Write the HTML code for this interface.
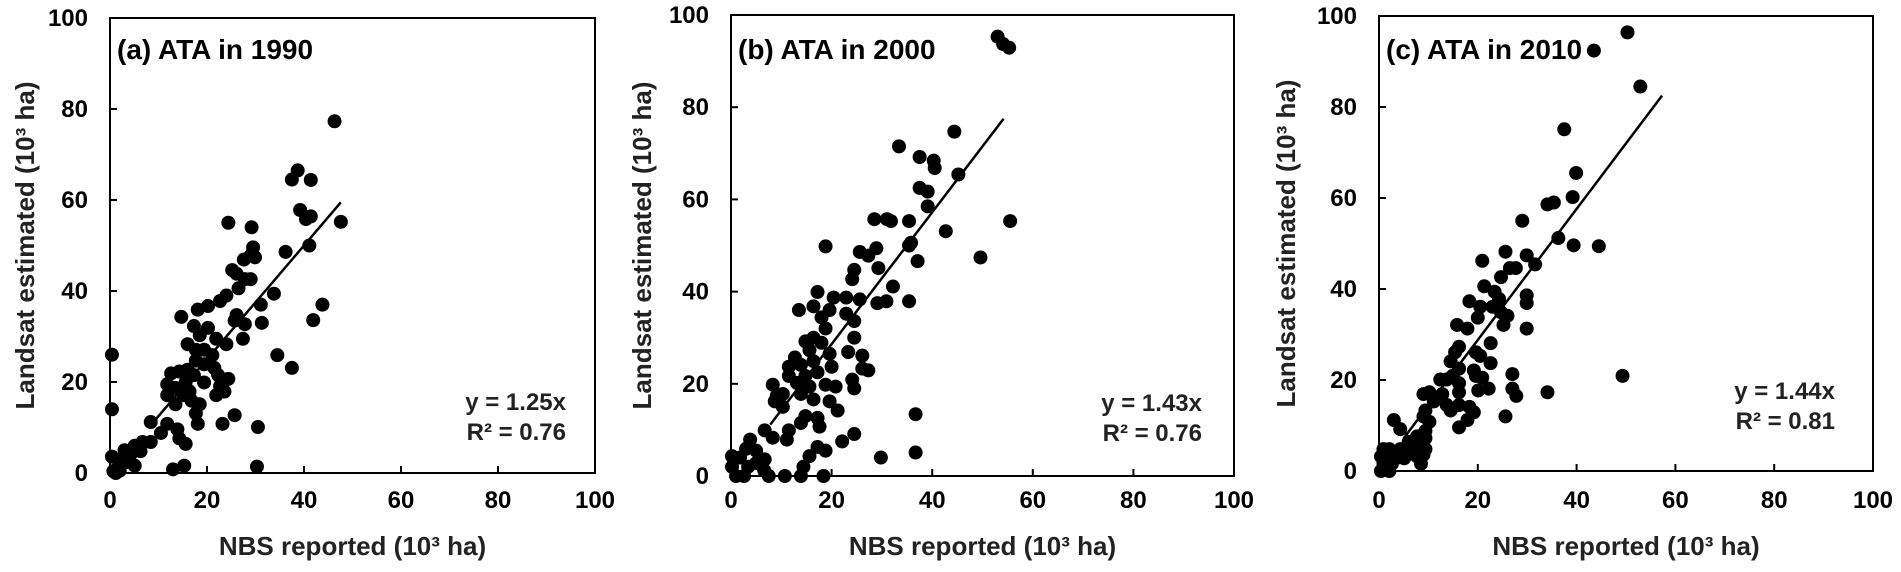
<!DOCTYPE html>
<html><head><meta charset="utf-8"><style>
html,body{margin:0;padding:0;background:#fff;}
svg{display:block;font-family:"Liberation Sans",Arial,sans-serif;font-weight:bold;}
</style></head><body>
<svg id="chart" width="1901" height="572" viewBox="0 0 1901 572" xmlns="http://www.w3.org/2000/svg"></svg>
<script>
const xTicks = [0, 20, 40, 60, 80, 100];
const yTicks = [0, 20, 40, 60, 80, 100];
const panelTitles = ["(a) ATA in 1990", "(b) ATA in 2000", "(c) ATA in 2010"];
const slopes = [1.25, 1.43, 1.44];
const r2Values = ["0.76", "0.76", "0.81"];
const fitRangeA = [9, 47.6];
const fitRangeB = [7.8, 54.2];
const fitRangeC = [5, 57.3];

const aX = [46.3,37.5,38.7,41.4,39.2,40.4,41.4,47.6,41.1,36.2,33.8,31.1,31.3,43.8,41.9,34.5,37.5,30.5,30.3,24.4,29.2,29.5,29.0,29.9,27.6,25.2,26.1,29.0,27.8,26.5,24,22.7,20.2,18.1,14.7,26.1,27.8,25.7,27.4,24,21.9,20.2,17.3,18.5,16,17.7,19.4,21.1,17.7,19.4,21.5,22.3,24.4,22.7,23.6,21.9,19.4,17.3,16,14.3,12.6,11.8,13.5,15.6,16.4,15.2,11.8,13.5,16.8,18.5,17.7,18.1,23.2,25.7,8.4,11.8,10.5,13.9,14.3,15.6,6.7,8.4,5.1,6.3,4.2,2.5,3.4,5.1,1.7,0.4,0.4,0.4,0.7,1.2,13,15.3,3.0,2.0];
const aY = [77.3,64.5,66.5,64.4,57.8,55.8,56.4,55.2,50,48.6,39.4,37,33,37,33.6,25.9,23.1,10.1,1.4,55,54,49.6,47.8,47.4,46.9,44.6,43.8,42.6,42.6,40.6,39,37.8,36.7,35.9,34.3,34.7,32.7,33.5,29.5,28.3,29.5,31.9,32.3,30.3,28.3,27.1,27.1,25.9,24.7,23.9,23.1,21.5,20.7,19.1,17.9,17.1,19.9,21.5,22.7,22.3,21.9,19.5,18.7,19.9,17.9,17.1,17.1,15.1,15.9,15.1,13.1,10.8,10.8,12.7,11.2,10.8,8.8,9.6,7.6,6.4,6.8,6.8,6.0,4.8,4.0,3.2,2.4,1.6,1.2,3.6,26,14,0.4,0,0.8,1.6,5.0,0.5];

const bX = [53,54.1,55.3,44.4,33.4,37.5,40.3,40.5,45.2,37.5,39.1,39.1,28.5,31,31.8,35.4,42.7,55.5,35.8,35.4,18.8,28.9,37.1,49.6,25.6,27.3,24.5,24.1,29.3,32.2,29.1,30.9,35.4,17.2,20.4,22.9,25.6,13.5,16.4,19.6,18,22.9,24.5,18.8,16.4,14.8,18,24.5,23.3,26.1,19.6,15.6,12.7,11.5,13.9,16.4,20.0,26.1,27.3,11.5,14.8,17.2,13.1,15.6,18.8,20.8,8.3,9.1,10.3,24.1,24.5,13.9,16.4,19.6,21.2,8.7,10.3,14.8,17.2,13.9,17.6,36.7,11.5,6.7,8.3,11.1,3.8,3,5,24.5,22.1,18.8,17.2,15.6,14.4,29.8,36.7,0.2,1.8,0.2,1,2.6,6.7,6.6,7.5,10.7,13.9,18.4,3.4,5];
const bY = [95.3,93.7,92.9,74.7,71.5,69.2,68.4,66.8,65.4,62.5,61.7,58.5,55.7,55.7,55.3,55.3,53.1,55.3,50.6,50,49.8,49.4,46.6,47.4,48.6,47.8,44.7,42.7,45.1,41.1,37.5,37.9,37.9,39.9,38.7,38.7,38.3,36,36.8,36,34.4,35.2,33.6,32,30,29.2,28.9,30,26.9,26.1,26.5,27.3,25.7,23.7,24.1,24.9,23.7,23.3,22.9,21.7,21.7,22.5,20.2,19.4,19.8,19.4,19.8,17.4,17.8,20.9,19,17.8,16.6,16.2,14.2,16.2,15,13,12.6,11.5,10.7,13.4,9.9,9.9,8.3,7.9,7.9,5.9,5.5,9.1,7.5,5.5,6.3,4.3,2,4,5.1,4.3,4,2,0,0,3.6,1.2,0,0,0,0,2,2.8];

const cX = [50.3,43.5,52.9,37.5,39.9,34.1,35.4,39.2,29,36.3,39.4,44.5,49.3,34.1,20.9,25.6,29.9,31.6,26.5,27.7,24.7,21.3,23.4,24.3,18.3,20.5,23,24.7,20,26,25.2,29.9,29.9,29.9,15.8,17.9,22.6,16.2,15.4,19.6,20.5,22.6,14.5,16.2,14.9,19.2,19.6,20.9,13.7,12.4,16.2,27,27,27.8,22.2,20.1,16.2,12.8,10.2,9,11.1,13.7,16.2,18.3,19.2,14.5,17.9,16.2,25.6,9.4,9,10.2,9.4,9.4,7.7,8.1,6,4.3,3,4.3,6.4,7.7,8.5,0.9,2.1,0.4,0.9,0.4,2.1,2.6,3.4,5.5,9.4,9,5.1,1.7];
const cY = [96.4,92.4,84.5,75.1,65.5,58.6,59,60.2,55,51.2,49.6,49.4,20.9,17.3,46.2,48.2,47.4,45.4,44.6,44.6,42.6,40.6,39.4,37.8,37.3,36.1,36.1,34.9,33.7,34.1,32.1,38.6,36.9,31.3,32.1,31.3,28.1,27.3,26.1,26.1,25.3,23.7,24.1,22.5,20.9,22.1,20.9,20.5,20.1,20.1,19.3,21.3,18.1,16.5,18.1,17.7,17.3,16.9,17.3,16.9,15.3,14.5,14.5,14.1,12.9,13.3,11.2,9.6,12,13.3,12,10.8,8.8,7.2,7.6,6,6.4,9.2,11.2,4.8,4,3.2,1.6,4.8,4.8,3.2,1.6,0,0,1.6,2.8,4,4.8,3.6,2.8,3.2];

const NS = "http://www.w3.org/2000/svg";
const svg = document.getElementById("chart");
function mk(tag, attrs, parent) {
  const e = document.createElementNS(NS, tag);
  for (const k in attrs) e.setAttribute(k, attrs[k]);
  parent.appendChild(e);
  return e;
}
const frames = [
  {l:110, r:595, t:18, b:473, yt:25, eqx:566, eqy:401},
  {l:731, r:1234, t:15, b:476, yt:642, eqx:1202, eqy:402},
  {l:1379, r:1873, t:16, b:471, yt:1286, eqx:1835, eqy:390}
];
const xs = [aX, bX, cX];
const ys = [aY, bY, cY];
const fits = [fitRangeA, fitRangeB, fitRangeC];
const ids = ["a", "b", "c"];

frames.forEach((f, i) => {
  const sx = v => f.l + (f.r - f.l) * v / 100;
  const sy = v => f.b - (f.b - f.t) * v / 100;
  const g = mk("g", {}, svg);
  
  

  const frame = mk("rect", {x:f.l, y:f.t, width:f.r-f.l, height:f.b-f.t, fill:"none", stroke:"#000", "stroke-width":2}, g);
  
  

  xTicks.forEach(v => {
    const t = mk("line", {x1:sx(v), x2:sx(v), y1:f.b, y2:f.b-7, stroke:"#000", "stroke-width":2}, g);
    
    
    const lb = mk("text", {x:sx(v), y:508, "text-anchor":"middle", "font-size":24}, g);
    
    
    lb.textContent = v;
  });
  yTicks.forEach(v => {
    const t = mk("line", {x1:f.l, x2:f.l+7, y1:sy(v), y2:sy(v), stroke:"#000", "stroke-width":2}, g);
    
    
    const lb = mk("text", {x:f.l-22, y:sy(v)+8, "text-anchor":"end", "font-size":24}, g);
    
    
    lb.textContent = v;
  });

  const xt = mk("text", {x:(f.l+f.r)/2, y:555, "text-anchor":"middle", "font-size":26, fill:"#222"}, g);
  
  
  xt.textContent = "NBS reported (10³ ha)";

  const yc = (f.t + f.b) / 2;
  const yt = mk("text", {x:f.yt, y:yc, "text-anchor":"middle", "dominant-baseline":"central", "font-size":26, fill:"#222", transform:`rotate(-90 ${f.yt} ${yc})`}, g);
  
  
  yt.textContent = "Landsat estimated (10³ ha)";

  const pts = mk("g", {}, g);
  
  
  xs[i].forEach((xv, k) => {
    const c = mk("circle", {cx:sx(xv), cy:sy(ys[i][k]), r:7, fill:"#000"}, pts);
    
    
  });

  const fr = fits[i];
  const ln = mk("line", {x1:sx(fr[0]), y1:sy(fr[0]*slopes[i]), x2:sx(fr[1]), y2:sy(fr[1]*slopes[i]), stroke:"#000", "stroke-width":2.5}, g);
  
  

  const title = mk("text", {x:f.l+7, y:59, "font-size":28}, g);
  
  
  title.textContent = panelTitles[i];

  const eq1 = mk("text", {x:f.eqx, y:f.eqy+9, "text-anchor":"end", "font-size":24, fill:"#222"}, g);
  
  
  eq1.textContent = "y = " + slopes[i].toFixed(2) + "x";
  const eq2 = mk("text", {x:f.eqx, y:f.eqy+39, "text-anchor":"end", "font-size":24, fill:"#222"}, g);
  
  
  eq2.textContent = "R² = " + r2Values[i];
});
</script>
</body></html>
